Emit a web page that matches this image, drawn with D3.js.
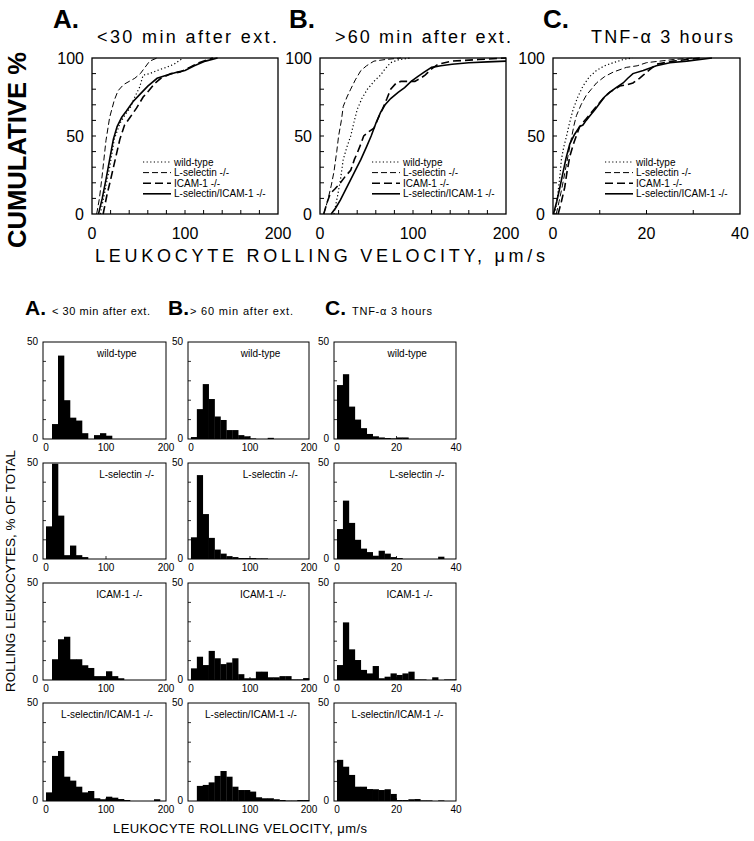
<!DOCTYPE html>
<html>
<head>
<meta charset="utf-8">
<script src="https://cdn.jsdelivr.net/npm/d3@7"></script>
<style>
  body { margin: 0; background: #fff; }
  svg { display: block; }
  text { font-family: "Liberation Sans", Arial, Helvetica, sans-serif; fill: #000; }
</style>
</head>
<body>
<svg id="fig" width="754" height="841"></svg>
<script>
// ---- data: cumulative distributions [velocity µm/s, cumulative %] ----
const genotypes = ["wild-type", "L-selectin -/-", "ICAM-1 -/-", "L-selectin/ICAM-1 -/-"];

const cumA_wt = [[9,0],[14,15],[19,30],[24,48],[30,58],[36,64],[41,68],[46,75],[51,81],[55,89],[62,90],[70,92],[80,94],[88,96],[98,100]];
const cumA_lsel = [[5,0],[8,10],[11,25],[15,47],[19,62],[24,73],[28,79],[34,83],[40,85],[46,87],[52,90],[57,94],[62,98],[70,100]];
const cumA_icam = [[12,0],[16,12],[20,22],[25,35],[30,48],[35,57],[41,62],[48,68],[55,75],[61,79],[68,84],[74,87],[85,90],[95,91],[105,94],[115,97],[130,100]];
const cumA_dbl = [[7,0],[11,10],[15,22],[19,35],[23,48],[27,56],[32,62],[37,66],[44,72],[52,77],[60,82],[70,87],[80,89],[92,91],[100,92],[110,95],[122,98],[135,100]];

const cumB_wt = [[15,0],[19,12],[22,22],[25,35],[29,43],[33,50],[37,60],[40,67],[45,74],[51,80],[58,85],[65,89],[70,93],[76,97],[85,99],[98,100]];
const cumB_lsel = [[4,0],[8,8],[12,18],[15,27],[18,40],[20,50],[23,60],[25,69],[29,75],[33,80],[38,86],[44,92],[50,95],[58,98],[70,99],[87,100]];
const cumB_icam = [[4,0],[8,8],[11,13],[16,16],[22,20],[27,24],[33,28],[37,35],[40,39],[44,45],[47,50],[53,53],[58,55],[63,62],[67,67],[72,74],[76,80],[82,84],[87,85],[95,85],[102,85],[108,87],[113,89],[120,93],[127,96],[142,98],[170,99],[200,100]];
const cumB_dbl = [[12,0],[17,4],[22,9],[27,15],[33,22],[38,28],[44,35],[50,43],[55,50],[60,58],[65,65],[70,70],[76,74],[84,78],[91,81],[98,85],[105,88],[112,91],[120,94],[130,95],[142,96],[160,97],[180,97.5],[200,98]];

const cumC_wt = [[0.4,0],[1,12],[1.5,25],[1.8,35],[2.3,43],[2.9,50],[3.5,58],[4.3,67],[5.3,75],[6.4,82],[7.8,88],[9.3,92],[11,95],[12.9,97],[15,99],[17,100]];
const cumC_lsel = [[0.7,0],[1.3,8],[2,18],[2.5,26],[3.2,37],[3.9,48],[4.5,57],[5,63],[6,70],[7.1,76],[8.2,80],[9.3,84],[11,88],[12.9,91],[15.7,94],[18,95],[20,97],[25.7,99],[30,100]];
const cumC_icam = [[1.1,0],[1.8,8],[2.5,17],[3,27],[3.6,37],[4.5,46],[5.7,56],[6.5,59],[7.1,61],[8.2,65],[9.3,69],[10.7,74],[12.1,78],[13.2,80],[14.3,82],[16,83],[17.1,84],[18.5,87],[19.3,89],[20.5,92],[22.1,96],[25.7,98],[31.4,100]];
const cumC_dbl = [[0.1,0],[0.8,8],[1.4,16],[2.1,26],[2.8,36],[3.6,45],[4.6,51],[5.7,56],[6.4,57],[7.1,60],[7.9,63],[9,67],[10,71],[11,75],[12.1,78],[13.5,81],[15,84],[16,87],[17.1,90],[19.3,92],[22.1,95],[25,97],[28.6,98],[34,100]];

// ---- data: histograms, % of total per bin (20 bins) ----
const histA_wt   = [0,7.7,43,20,11,9.5,3,0,2,3,1.7,0,0,0,0,0,0,0,0,0];
const histA_lsel = [17,49.6,22.6,2,7,2,1,0,0,0,0,0,0,0,0,0,0,0,0,0];
const histA_icam = [0,10.7,21,22.3,10.7,10.7,7.6,6.2,2,2,4.5,2,0.9,0,0,0,0,0,0,0];
const histA_dbl  = [4.4,23,25.5,12.4,10.4,7.3,4.4,5.1,1.4,0.9,2.2,1.7,1,0.5,0,0,0,0,0.9,0];

const histB_wt   = [1,15.4,28.3,20.6,11.6,9.8,4.6,4.6,2,1.4,0.3,0,0,0.6,0,0,0,0,0,0];
const histB_lsel = [11.3,43.7,23.4,11,4.9,2.8,1.5,1,0.5,0.5,0.5,0.3,0.3,0,0,0,0,0,0,0];
const histB_icam = [6,12,7.7,15,11.2,8.2,9,11.2,3,0.9,0.9,4.3,4.3,1.4,1.4,2,2,0.3,0.3,1];
const histB_dbl  = [0,7.7,8.2,9.5,12.8,15.3,12.4,7.3,5.6,5.6,4.8,1.9,1.4,1.4,0.9,0.5,0.2,0.2,0.5,0.5];

const histC_wt   = [27.8,33.4,16.7,10,5.6,2.6,1.4,0.8,0.5,0.3,0.8,0.8,0,0,0,0,0,0,0,0];
const histC_lsel = [15.6,30.4,18.8,10,5.4,3.6,1.7,4.3,2.8,1,0.5,0,0,0,0,0,0,1.2,0,0];
const histC_icam = [7.7,29.7,15.8,10.3,5.2,3.4,7.2,0.9,1.7,3.4,2.6,3.4,4.3,0.3,0.3,0,1.4,0,0.3,0.3];
const histC_dbl  = [21,17.5,13.3,7.3,7.3,6.1,6,5.6,6,3.6,0.5,0.5,0.9,1,0.3,0.3,0,0.3,0,0];

const svg = d3.select("#fig");

// line style per genotype
const lineStyles = [
  { dash: "1.2,2.4", width: 1.2 },
  { dash: "6,3", width: 1 },
  { dash: "8,4", width: 1.6 },
  { dash: null, width: 1.6 }
];

// ================= top: cumulative panels =================
const cumTop = 58, cumBottom = 214;
const cumPanels = [
  { letter: "A.", lx: 53, title: "<30 min after ext.", tx: 97, tlen: 180, x0: 92, x1: 278, xMax: 200, ticks: [0, 100, 200], minor: 20, curves: [cumA_wt, cumA_lsel, cumA_icam, cumA_dbl], legX: 143 },
  { letter: "B.", lx: 289, title: ">60 min after ext.", tx: 335, tlen: 176, x0: 320, x1: 506, xMax: 200, ticks: [0, 100, 200], minor: 20, curves: [cumB_wt, cumB_lsel, cumB_icam, cumB_dbl], legX: 372 },
  { letter: "C.", lx: 543, title: "TNF-\u03b1 3 hours", tx: 591, tlen: 142, x0: 553, x1: 740, xMax: 40, ticks: [0, 20, 40], minor: 10, curves: [cumC_wt, cumC_lsel, cumC_icam, cumC_dbl], legX: 605 }
];

cumPanels.forEach((p) => {
  const x = d3.scaleLinear().domain([0, p.xMax]).range([p.x0, p.x1]);
  const y = d3.scaleLinear().domain([0, 100]).range([cumBottom, cumTop]);
  const g = svg.append("g");

  g.append("text").attr("x", p.lx).attr("y", 28)
    .attr("font-size", 26).attr("font-weight", "bold").text(p.letter);
  g.append("text").attr("x", p.tx).attr("y", 43)
    .attr("font-size", 18).attr("textLength", p.tlen).attr("lengthAdjust", "spacing")
    .text(p.title);

  // inside ticks (left and bottom)
  const yMinor = d3.range(10, 100, 10);
  g.selectAll(".yt").data(yMinor).join("line")
    .attr("x1", p.x0).attr("x2", p.x0 + 4)
    .attr("y1", (d) => y(d)).attr("y2", (d) => y(d))
    .attr("stroke", "#000").attr("stroke-width", 1);
  g.selectAll(".xt").data(d3.range(p.minor, p.xMax, p.minor)).join("line")
    .attr("x1", (d) => x(d)).attr("x2", (d) => x(d))
    .attr("y1", cumBottom).attr("y2", cumBottom - 4)
    .attr("stroke", "#000").attr("stroke-width", 1);

  // tick labels
  g.selectAll(".yl").data([0, 50, 100]).join("text")
    .attr("x", p.x0 - 8).attr("y", (d) => y(d)).attr("dy", "0.36em")
    .attr("text-anchor", "end").attr("font-size", 16).text((d) => d);
  g.selectAll(".xl").data(p.ticks).join("text")
    .attr("x", (d) => x(d)).attr("y", cumBottom + 25)
    .attr("text-anchor", "middle").attr("font-size", 16).text((d) => d);

  // curves
  const line = d3.line().x((d) => x(d[0])).y((d) => y(d[1]));
  p.curves.forEach((c, i) => {
    g.append("path").datum(c)
      .attr("fill", "none").attr("stroke", "#000")
      .attr("stroke-width", lineStyles[i].width)
      .attr("stroke-dasharray", lineStyles[i].dash)
      .attr("d", line);
  });

  // frame
  g.append("rect").attr("x", p.x0).attr("y", cumTop)
    .attr("width", p.x1 - p.x0).attr("height", cumBottom - cumTop)
    .attr("fill", "none").attr("stroke", "#000").attr("stroke-width", 1.3);

  // legend
  const leg = g.append("g");
  genotypes.forEach((name, i) => {
    const ly = 162 + i * 10.6;
    leg.append("line").attr("x1", p.legX).attr("x2", p.legX + 28)
      .attr("y1", ly).attr("y2", ly).attr("stroke", "#000")
      .attr("stroke-width", lineStyles[i].width)
      .attr("stroke-dasharray", lineStyles[i].dash);
    leg.append("text").attr("x", p.legX + 31).attr("y", ly + 3.5)
      .attr("font-size", 10).text(name);
  });
});

svg.append("text")
  .attr("transform", "translate(26,150) rotate(-90)")
  .attr("text-anchor", "middle").attr("font-size", 26).attr("font-weight", "bold")
  .attr("textLength", 196).attr("lengthAdjust", "spacingAndGlyphs")
  .text("CUMULATIVE %");

svg.append("text").attr("x", 95).attr("y", 262)
  .attr("font-size", 18).attr("textLength", 450).attr("lengthAdjust", "spacing")
  .text("LEUKOCYTE ROLLING VELOCITY, \u03bcm/s");

// ================= bottom: histograms =================
const histCols = [
  { letter: "A.", lx: 25, title: "< 30 min after ext.", tx: 52, tlen: 98, x0: 43, x1: 166, domain: [-5, 200], bw: 10, ticks: [0, 100, 200], data: [histA_wt, histA_lsel, histA_icam, histA_dbl] },
  { letter: "B.", lx: 168, title: "> 60 min after ext.", tx: 190, tlen: 103, x0: 188, x1: 309, domain: [-5, 200], bw: 10, ticks: [0, 100, 200], data: [histB_wt, histB_lsel, histB_icam, histB_dbl] },
  { letter: "C.", lx: 325, title: "TNF-\u03b1  3 hours", tx: 352, tlen: 80, x0: 334, x1: 456, domain: [-1, 40], bw: 2, ticks: [0, 20, 40], data: [histC_wt, histC_lsel, histC_icam, histC_dbl] }
];
const histRows = [[342, 439], [463, 559], [583, 680], [703, 801]];
const labelFrac = [0.6, 0.68, 0.62, 0.52];

histCols.forEach((c) => {
  svg.append("text").attr("x", c.lx).attr("y", 315)
    .attr("font-size", 21).attr("font-weight", "bold").text(c.letter);
  svg.append("text").attr("x", c.tx).attr("y", 315)
    .attr("font-size", 11).attr("textLength", c.tlen).attr("lengthAdjust", "spacing")
    .text(c.title);

  const x = d3.scaleLinear().domain(c.domain).range([c.x0, c.x1]);

  histRows.forEach(([top, bottom], r) => {
    const y = d3.scaleLinear().domain([0, 50]).range([bottom, top]);
    const g = svg.append("g");
    const vals = c.data[r];

    g.selectAll("rect.bar").data(vals.map((v, i) => ({ v, i })).filter((d) => d.v > 0))
      .join("rect").attr("class", "bar")
      .attr("x", (d) => x(d.i * c.bw))
      .attr("width", (d) => x((d.i + 1) * c.bw) - x(d.i * c.bw) + 0.3)
      .attr("y", (d) => y(d.v))
      .attr("height", (d) => y(0) - y(d.v))
      .attr("fill", "#000");

    g.selectAll(".yt").data([10, 20, 30, 40]).join("line")
      .attr("x1", c.x0).attr("x2", c.x0 + 3)
      .attr("y1", (d) => y(d)).attr("y2", (d) => y(d))
      .attr("stroke", "#000").attr("stroke-width", 0.8);
    g.selectAll(".xt").data(c.ticks.slice(1, 2)).join("line")
      .attr("x1", (d) => x(d)).attr("x2", (d) => x(d))
      .attr("y1", bottom).attr("y2", bottom - 3)
      .attr("stroke", "#000").attr("stroke-width", 0.8);

    g.append("rect").attr("x", c.x0).attr("y", top)
      .attr("width", c.x1 - c.x0).attr("height", bottom - top)
      .attr("fill", "none").attr("stroke", "#000").attr("stroke-width", 1);

    g.selectAll(".yl").data([0, 50]).join("text")
      .attr("x", c.x0 - 5).attr("y", (d) => y(d)).attr("dy", "0.3em")
      .attr("text-anchor", "end").attr("font-size", 10).text((d) => d);
    g.selectAll(".xl").data(c.ticks).join("text")
      .attr("x", (d) => x(d)).attr("y", bottom + 12)
      .attr("text-anchor", "middle").attr("font-size", 10).text((d) => d);

    g.append("text")
      .attr("x", c.x0 + (c.x1 - c.x0) * labelFrac[r]).attr("y", top + 15)
      .attr("text-anchor", "middle").attr("font-size", 10).text(genotypes[r]);
  });
});

svg.append("text")
  .attr("transform", "translate(15,571) rotate(-90)")
  .attr("text-anchor", "middle").attr("font-size", 13)
  .attr("textLength", 242).attr("lengthAdjust", "spacingAndGlyphs")
  .text("ROLLING LEUKOCYTES, % OF TOTAL");

svg.append("text").attr("x", 113).attr("y", 833)
  .attr("font-size", 13).attr("textLength", 254).attr("lengthAdjust", "spacing")
  .text("LEUKOCYTE ROLLING VELOCITY, \u03bcm/s");
</script>
</body>
</html>
